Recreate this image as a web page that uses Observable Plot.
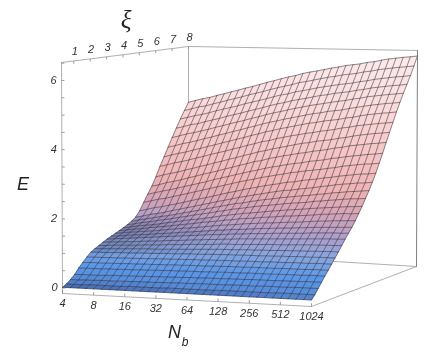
<!DOCTYPE html>
<html><head><meta charset="utf-8">
<script src="https://cdn.jsdelivr.net/npm/d3@7"></script>
<script src="https://cdn.jsdelivr.net/npm/@observablehq/plot@0.6"></script>
<style>html,body{margin:0;padding:0;background:#fff}svg{display:block;filter:blur(0.35px)}</style>
</head><body><div id="chart"></div>
<script>
// log2(Nb) of the mesh columns
const nbGrid = [2,2.25,2.5,2.75,3,3.25,3.5,3.75,4,4.25,4.5,4.75,5,5.25,5.5,5.75,6,6.25,6.5,6.75,7,7.25,7.5,7.75,8,8.25,8.5,8.75,9,9.25,9.5,9.75,10];
// xi of the mesh rows
const xiGrid = [0.25,0.5,0.75,1,1.25,1.5,1.75,2,2.25,2.5,2.75,3,3.25,3.5,3.75,4,4.25,4.5,4.75,5,5.25,5.5,5.75,6,6.25,6.5,6.75,7,7.25,7.5,7.75,8];
// E x 100, one row per xi, one column per Nb
const eTable = [
[2,2,2,2,2,2,2,2,2,2,2,2,2,2,2,2,2,2,2,2,2,2,2,2,2,2,2,2,2,2,2,2,2],
[8,8,8,9,9,9,9,9,10,10,10,10,10,11,11,11,11,11,11,11,12,12,12,12,12,12,12,13,13,13,13,13,13],
[17,17,18,18,19,19,19,20,20,21,21,21,22,22,23,23,23,24,24,24,24,25,25,25,25,26,26,26,26,27,27,27,27],
[28,29,29,29,30,31,31,32,32,33,33,34,34,35,35,36,36,37,37,37,38,38,38,39,39,39,39,40,40,40,41,41,41],
[43,44,44,44,45,45,46,46,47,47,48,48,49,49,50,50,50,51,51,52,52,52,53,53,53,53,54,54,54,54,55,55,55],
[56,57,57,57,58,58,59,59,60,60,61,61,62,62,63,63,63,64,64,65,65,65,66,66,66,66,67,67,67,67,68,68,68],
[68,69,69,70,70,71,71,72,72,73,74,74,75,75,76,76,77,77,78,78,78,79,79,79,80,80,80,81,81,81,82,82,82],
[79,80,80,81,82,82,83,84,84,85,86,86,87,88,88,89,90,90,91,91,92,92,92,93,93,94,94,95,95,95,96,96,96],
[86,87,88,89,90,91,92,93,93,94,95,96,97,98,99,100,101,102,102,103,104,104,105,105,106,107,107,108,108,109,109,110,110],
[92,93,95,96,97,98,100,101,102,104,105,106,108,109,110,111,113,114,114,115,116,117,118,119,119,120,121,122,123,123,124,124,125],
[98,100,101,103,104,106,108,109,111,113,114,116,118,119,121,122,124,125,127,128,129,130,131,132,133,134,135,136,137,138,139,139,140],
[104,106,108,110,112,114,116,118,120,122,124,126,128,130,132,133,135,137,138,140,141,142,144,145,146,147,148,150,151,152,153,153,154],
[109,111,114,116,118,120,123,125,127,130,132,134,137,139,142,143,146,147,149,151,153,154,156,157,158,160,161,163,164,165,166,167,168],
[114,117,120,122,125,127,130,133,136,139,141,144,147,150,153,155,157,160,162,164,166,167,169,171,172,174,176,178,179,181,182,183,184],
[119,122,126,128,132,135,138,141,145,148,151,155,158,161,165,167,171,173,175,178,180,182,185,186,188,190,192,195,196,198,200,200,202],
[124,128,132,135,138,142,146,150,154,158,161,165,169,173,177,180,184,186,189,192,195,197,200,202,204,207,209,211,213,215,217,218,220],
[130,134,139,142,147,151,155,160,164,169,173,177,182,186,191,194,198,202,205,208,211,214,217,219,221,225,227,230,232,235,237,238,240],
[137,142,147,151,156,160,165,170,175,180,185,190,195,200,205,208,213,217,221,224,228,231,234,237,239,243,245,249,251,254,256,258,260],
[146,151,157,161,166,172,177,183,188,194,199,205,210,215,221,225,230,234,239,243,247,249,253,256,259,263,266,270,273,275,278,279,282],
[162,168,174,178,184,189,195,201,207,212,218,224,230,235,241,246,251,256,260,264,269,271,276,279,282,286,289,293,296,299,302,303,306],
[185,191,197,201,207,213,219,225,231,237,243,249,255,261,266,271,277,281,286,290,295,298,302,305,308,312,315,320,323,326,329,330,333],
[207,213,219,224,230,236,242,248,254,261,267,273,279,285,291,296,302,307,311,316,320,323,328,331,334,339,342,346,349,352,355,357,360],
[229,235,242,247,253,260,266,273,279,285,292,298,305,311,318,322,329,334,339,343,348,351,356,359,363,368,371,376,379,382,385,387,390],
[255,262,268,273,280,286,293,299,306,312,319,325,332,338,345,350,356,361,366,371,376,379,384,387,390,395,398,403,407,410,413,415,418],
[285,291,298,303,309,316,322,329,335,341,348,354,361,367,374,378,385,390,395,399,404,407,412,415,419,424,427,432,435,438,441,443,446],
[312,319,325,330,337,343,350,356,363,369,376,382,389,395,402,407,413,418,423,428,433,436,441,444,447,452,455,460,464,467,470,472,475],
[340,346,353,358,364,371,377,384,390,397,403,410,416,423,429,434,440,445,450,455,460,463,468,471,474,479,483,487,491,494,497,499,502],
[368,374,381,386,392,398,405,411,418,424,430,437,443,450,456,461,467,472,477,482,486,490,494,498,501,506,509,514,517,520,523,525,528],
[395,401,408,412,419,425,431,438,444,450,457,463,469,476,482,487,493,498,502,507,512,515,520,523,526,531,534,539,542,545,548,550,553],
[422,428,434,439,445,452,458,464,470,477,483,489,495,502,508,512,519,523,528,533,537,541,545,548,551,556,559,564,567,570,573,575,578],
[447,453,460,464,471,477,484,490,496,503,509,515,522,528,534,539,546,550,555,560,565,568,573,576,579,584,587,592,595,598,601,603,606],
[471,478,484,489,496,502,509,515,522,528,535,542,548,555,561,566,573,578,582,587,592,596,601,604,607,612,615,620,624,627,630,632,635]
];
const xiTicks = [1,2,3,4,5,6,7,8];
const eLabels = [0,2,4,6];
const eTicks = [0,0.5,1,1.5,2,2.5,3,3.5,4,4.5,5,5.5,6,6.5];
const nbExps = [2,3,4,5,6,7,8,9,10];
const nbLabels = ["4","8","16","32","64","128","256","512","1024"];
const colorStops = [0,0.5,0.95,1.4,1.95,2.6,4,5,6.4];
const colorRange = ["#5487d2","#5a98e8","#88a6de","#ab9fcc","#d4a3b5","#efb4b4","#f7cdcd","#fadddd","#fcebeb"];

// box view: screen corners of the 3D frame, indexed [u][v][w]
const view = {
  eMin:-0.16, eMax:6.52, xiMin:0.25, xiMax:8, nbMin:2, nbMax:10,
  c:[[[[62,293],[61,62]],[[188,252],[188,46]]],[[[311,306],[309,65]],[[416,266],[417,50]]]]
};
function project(nb, xi, e){
  const u=(nb-view.nbMin)/(view.nbMax-view.nbMin), v=(xi-view.xiMin)/(view.xiMax-view.xiMin), w=(e-view.eMin)/(view.eMax-view.eMin);
  const c=view.c, p=[0,0];
  for(const k of [0,1]){
    const a=c[0][0][0][k]*(1-w)+c[0][0][1][k]*w, b=c[0][1][0][k]*(1-w)+c[0][1][1][k]*w;
    const d=c[1][0][0][k]*(1-w)+c[1][0][1][k]*w, f=c[1][1][0][k]*(1-w)+c[1][1][1][k]*w;
    p[k]=(a*(1-v)+b*v)*(1-u)+(d*(1-v)+f*v)*u;
  }
  return p;
}
const P=(nb,xi,e)=>{const p=project(nb,xi,e);return {x:p[0],y:p[1],nb,xi,e};};

// quads, back rows first; flatter cells get more shade, as the reference's lighting does
const quads=[];
for(let r=xiGrid.length-2;r>=0;r--) for(let c=0;c<nbGrid.length-1;c++){
  const m=(eTable[r][c]+eTable[r][c+1]+eTable[r+1][c]+eTable[r+1][c+1])/400;
  const rise=(eTable[r+1][c]+eTable[r+1][c+1]-eTable[r][c]-eTable[r][c+1])/200;
  const shade=Math.min(0.3,Math.max(0,(0.12-rise)*3.5));
  [[r,c],[r,c+1],[r+1,c+1],[r+1,c],[r,c]].forEach(([i,j])=>{
    quads.push({...P(nbGrid[j],xiGrid[i],eTable[i][j]/100),id:r+"-"+c,m,shade});
  });
}
const mesh=[];
xiGrid.forEach((xi,i)=>nbGrid.forEach((nb,j)=>mesh.push({...P(nb,xi,eTable[i][j]/100),id:"r"+i})));
nbGrid.forEach((nb,j)=>xiGrid.forEach((xi,i)=>mesh.push({...P(nb,xi,eTable[i][j]/100),id:"c"+j})));

const {eMin:a0,eMax:a1,xiMin:b0,xiMax:b1,nbMin:c0,nbMax:c1}=view;
const edge=(id,p,q)=>[{...P(...p),id},{...P(...q),id}];
const backEdges=[
  ...edge("top-left",[c0,b0,a1],[c0,b1,a1]),
  ...edge("top-back",[c0,b1,a1],[c1,b1,a1]),
  ...edge("left",[c0,b0,a0],[c0,b0,a1]),
  ...edge("back",[c0,b1,a0],[c0,b1,a1]),
  ...edge("floor-back",[c0,b1,a0],[c1,b1,a0]),
  ...edge("front",[c0,b0,a0],[c1,b0,a0]),
  ...edge("floor-right",[c1,b0,a0],[c1,b1,a0])
];
const rightEdge=edge("right",[c1,b1,a0],[c1,b1,a1]);

const link=(list,from,to)=>list.map(d=>{const p=from(d),q=to(d);return {x1:p[0],y1:p[1],x2:q[0],y2:q[1]};});
const ticks=[
  ...link(xiTicks,d=>project(c0,d,a1),d=>project(c0,d,a1-0.08)),
  ...link(eTicks,d=>project(c0,b0,d),d=>project(c0+0.09,b0,d)),
  ...link(nbExps,d=>project(d,b0,a0),d=>project(d,b0,a0+0.09))
];
const tickFont={fontFamily:"Liberation Sans",fontStyle:"italic",fontSize:11,fill:"#333"};
const pt=(nb,xi,e)=>{const p=project(nb,xi,e);return {x:p[0],y:p[1]};};

const plot=Plot.plot({
  width:443,height:364,margin:0,
  style:{background:"#fff"},
  x:{domain:[0,443],range:[0,443],axis:null},
  y:{domain:[0,364],range:[0,364],axis:null},
  color:{type:"linear",domain:colorStops,range:colorRange,legend:false},
  marks:[
    Plot.line(backEdges,{x:"x",y:"y",z:"id",stroke:"#b0b0b0",strokeWidth:1}),
    Plot.line(rightEdge,{x:"x",y:"y",z:"id",stroke:"#808080",strokeWidth:1}),
    Plot.link(ticks,{x1:"x1",y1:"y1",x2:"x2",y2:"y2",stroke:"#888",strokeWidth:0.8}),
    Plot.line(quads,{x:"x",y:"y",z:"id",fill:"m",stroke:"m",strokeWidth:0.4}),
    Plot.line(quads,{x:"x",y:"y",z:"id",fill:"#141438",fillOpacity:"shade",stroke:"none"}),
    Plot.line(mesh,{x:"x",y:"y",z:"id",stroke:"#2a2230",strokeWidth:0.85,strokeOpacity:0.62}),
    Plot.text(xiTicks.map(d=>({...pt(c0,d,a1),t:String(d)})),{x:"x",y:"y",text:"t",dx:1,dy:-9,...tickFont}),
    Plot.text(eLabels.map(d=>({...pt(c0,b0,d),t:String(d)})),{x:"x",y:"y",text:"t",dx:-8,...tickFont}),
    Plot.text(nbExps.map((d,i)=>({...pt(d,b0,a0),t:nbLabels[i]})),{x:"x",y:"y",text:"t",dy:10,...tickFont}),
    Plot.text([pt(c0,4.2,a1)],{x:"x",y:"y",text:()=>"ξ",dy:-34,fontFamily:"Liberation Serif",fontStyle:"italic",fontSize:25,fill:"#222"}),
    Plot.text([pt(c0,b0,3)],{x:"x",y:"y",text:()=>"E",dx:-39,fontFamily:"Liberation Sans",fontStyle:"italic",fontSize:18,fill:"#222"}),
    Plot.text([pt(6,b0,a0)],{x:"x",y:"y",text:()=>"N",dx:-12.5,dy:32,fontFamily:"Liberation Sans",fontStyle:"italic",fontSize:18,fill:"#222"}),
    Plot.text([pt(6,b0,a0)],{x:"x",y:"y",text:()=>"b",dx:-2,dy:42,fontFamily:"Liberation Sans",fontStyle:"italic",fontSize:12,fill:"#222"})
  ]
});
document.getElementById("chart").append(plot);
</script></body></html>
